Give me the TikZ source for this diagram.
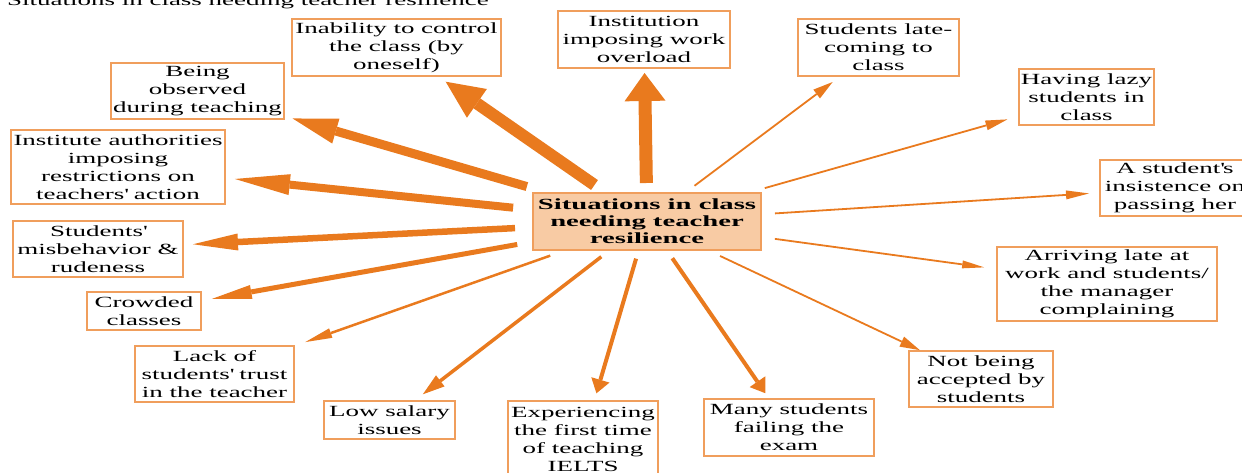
\documentclass[tikz,border=0pt]{standalone}
\usepackage{fontspec}
\setmainfont{Liberation Serif}[FakeStretch=1.74]
\newfontfamily\hubfont{Liberation Serif}[FakeStretch=1.85]
\usetikzlibrary{arrows.meta}
\definecolor{arrowc}{RGB}{233,122,30}
\definecolor{boxline}{RGB}{240,158,92}
\definecolor{hubfill}{RGB}{248,203,164}

\begin{document}
\begin{tikzpicture}[x=1pt,y=-1pt]
      \tikzstyle{item}=[draw=boxline,line width=1.5pt,fill=white,align=center,inner sep=0pt,outer sep=0pt,font=\fontsize{15.5}{18}\selectfont]
      \tikzstyle{arr}=[draw=arrowc,line width=1.8pt]
      \useasboundingbox (0,0) rectangle (1242,473);
      \node[anchor=base west,inner sep=0pt,font=\fontsize{15.5}{18}\selectfont] (title) at (7,6) {Situations in class needing teacher resilience};
      \node[item,fill=hubfill,minimum width=228pt,minimum height=57pt,font=\hubfont\bfseries\fontsize{15.5}{17}\selectfont] (hub) at (647,221.5) {Situations in class\\needing teacher\\resilience};
      \node[item,minimum width=209pt,minimum height=57pt] (inab) at (396.5,47.5) {Inability to control\\the class (by\\oneself)};
      \node[item,minimum width=172pt,minimum height=57pt] (overload) at (644,39.5) {Institution\\imposing work\\overload};
      \node[item,minimum width=173pt,minimum height=56pt] (observed) at (197.5,91) {Being\\observed\\during teaching};
      \node[item,minimum width=214pt,minimum height=74pt] (authority) at (118,167) {Institute authorities\\imposing\\restrictions on\\teachers\textquotesingle{} action};
      \node[item,minimum width=170pt,minimum height=56pt] (misbehav) at (98,249) {Students\textquotesingle\\misbehavior \&\\rudeness};
      \node[item,minimum width=114pt,minimum height=38pt] (crowded) at (144,311) {Crowded\\classes};
      \node[item,minimum width=159pt,minimum height=56pt] (trust) at (214.5,374) {Lack of\\students\textquotesingle{} trust\\in the teacher};
      \node[item,minimum width=131pt,minimum height=38pt] (salary) at (389.5,420) {Low salary\\issues};
      \node[item,minimum width=150pt,minimum height=76pt] (ielts) at (583,439) {Experiencing\\the first time\\of teaching\\IELTS};
      \node[item,minimum width=170pt,minimum height=57pt] (failing) at (789,427.5) {Many students\\failing the\\exam};
      \node[item,minimum width=144pt,minimum height=56pt] (accepted) at (981,379) {Not being\\accepted by\\students};
      \node[item,minimum width=220pt,minimum height=74pt] (arriving) at (1107,284) {Arriving late at\\work and students/\\the manager\\complaining};
      \node[item,minimum width=150pt,minimum height=56pt] (insist) at (1175,188) {A student\textquotesingle s\\insistence on\\passing her};
      \node[item,minimum width=135pt,minimum height=56pt] (lazy) at (1086.5,97) {Having lazy\\students in\\class};
      \node[item,minimum width=161pt,minimum height=57pt] (latecome) at (878.5,47.5) {Students late-\\coming to\\class};
      % thick arrows
      \draw[arr,line width=12pt,-{Triangle[length=38pt,width=35pt,line width=0pt]},shorten <=14pt,shorten >=10pt] (hub) -- (inab);
      \draw[arr,line width=13pt,-{Triangle[length=28pt,width=41pt,line width=0pt]},shorten <=10pt,shorten >=5pt] (hub) -- (overload);
      \draw[arr,line width=9pt,-{Triangle[length=45pt,width=26pt,line width=0pt]},shorten <=23pt,shorten >=9pt] (hub) -- (observed);
      \draw[arr,line width=8pt,-{Triangle[length=55pt,width=21pt,line width=0pt]},shorten <=20pt,shorten >=10pt] (hub) -- (authority);
      \draw[arr,line width=6.5pt,-{Triangle[length=45pt,width=17pt,line width=0pt]},shorten <=18pt,shorten >=10pt] (hub) -- (misbehav);
      \draw[arr,line width=5pt,-{Triangle[length=40pt,width=14pt,line width=0pt]},shorten <=16pt,shorten >=11pt] (hub) -- (crowded);
      \draw[arr,line width=2.5pt,-{Triangle[length=27pt,width=10pt,line width=0pt]},shorten <=17pt,shorten >=12pt] (hub) -- (trust);
      \draw[arr,line width=3.5pt,-{Triangle[length=22pt,width=14pt,line width=0pt]},shorten <=11pt,shorten >=11pt] (hub) -- (salary);
      \draw[arr,line width=4pt,-{Triangle[length=14pt,width=19pt,line width=0pt]},shorten <=9pt,shorten >=8pt] (hub) -- (ielts);
      \draw[arr,line width=4pt,-{Triangle[length=14pt,width=19pt,line width=0pt]},shorten <=10pt,shorten >=7pt] (hub) -- (failing);
      % thin arrows
      \draw[arr,-{Triangle[length=20pt,width=11pt,line width=0pt]},shorten <=14pt,shorten >=2pt] (hub) -- (accepted);
      \draw[arr,-{Triangle[length=22pt,width=8pt,line width=0pt]},shorten <=14pt,shorten >=13pt] (hub) -- (arriving);
      \draw[arr,-{Triangle[length=23pt,width=9pt,line width=0pt]},shorten <=14pt,shorten >=11pt] (hub) -- (insist);
      \draw[arr,-{Triangle[length=22pt,width=10pt,line width=0pt]},shorten <=18pt,shorten >=12pt] (hub) -- (lazy);
      \draw[arr,-{Triangle[length=20pt,width=11pt,line width=0pt]},shorten <=12pt,shorten >=10pt] (hub) -- (latecome);
\end{tikzpicture}
\end{document}
